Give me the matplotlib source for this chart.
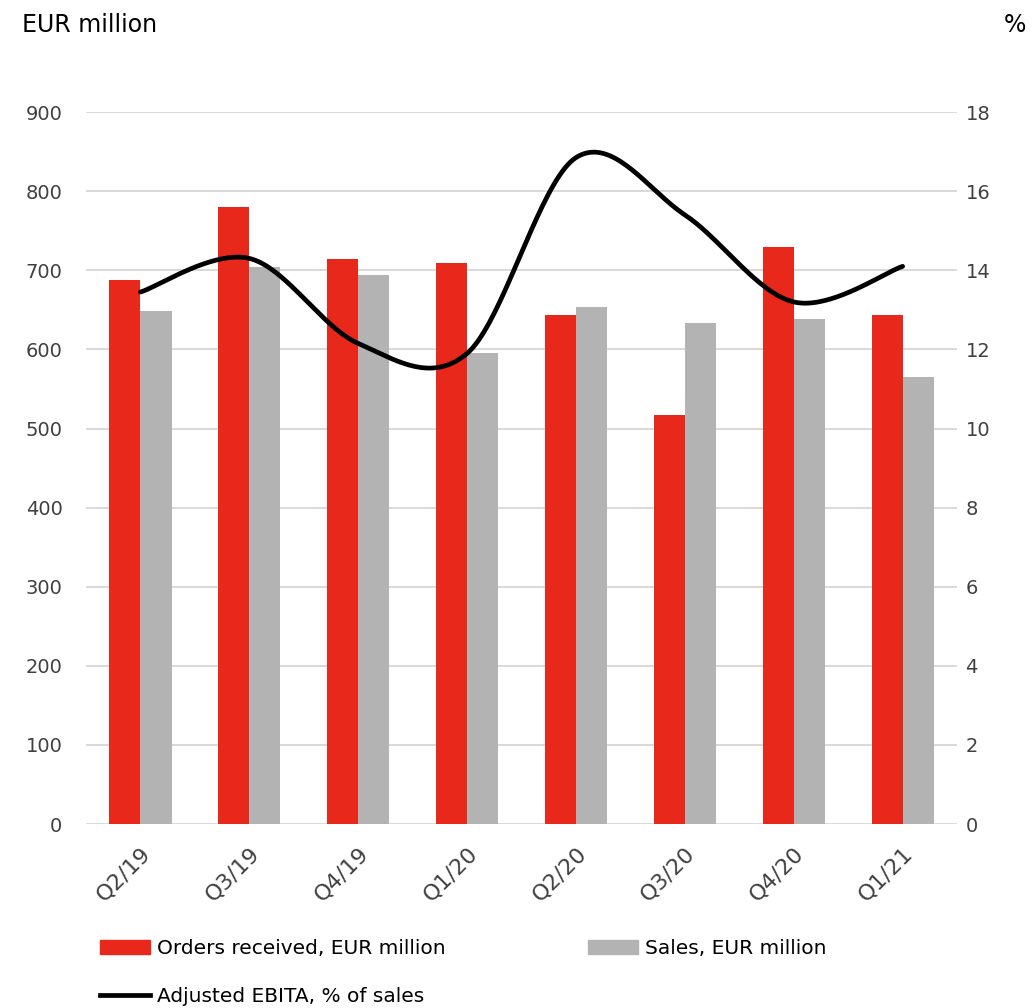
import numpy as np
import matplotlib
matplotlib.use("Agg")
import matplotlib.pyplot as plt
from matplotlib.patches import Patch
from matplotlib.lines import Line2D

quarters = ["Q2/19", "Q3/19", "Q4/19", "Q1/20", "Q2/20", "Q3/20", "Q4/20", "Q1/21"]
orders = [688, 780, 714, 709, 643, 517, 729, 643]
sales = [648, 704, 694, 595, 653, 633, 638, 565]
ebita_pct = [13.45, 14.3, 12.15, 11.9, 16.85, 15.4, 13.2, 14.1]

red = "#E8281A"
grey = "#B3B3B3"
grid_c = "#D9D9D9"
txt_c = "#404040"


def excel_smooth(xs, ys, n=40):
    # cubic bezier through the points, like excel's "smoothed line"
    p = np.column_stack([xs, ys]).astype(float)
    p = np.vstack([p[0], p, p[-1]])
    out = []
    t = np.linspace(0, 1, n)[:, None]
    for i in range(1, len(p) - 2):
        p0, p1, p2, p3 = p[i - 1], p[i], p[i + 1], p[i + 2]
        c1 = p1 + (p2 - p0) / 6
        c2 = p2 - (p3 - p1) / 6
        seg = (1 - t) ** 3 * p1 + 3 * (1 - t) ** 2 * t * c1 + 3 * (1 - t) * t ** 2 * c2 + t ** 3 * p2
        out.append(seg if i == 1 else seg[1:])
    out = np.vstack(out)
    return out[:, 0], out[:, 1]


fig = plt.figure(figsize=(10.33, 10.08), dpi=100)
ax = fig.add_axes([0.0833, 0.1825, 0.8432, 0.7063])
ax2 = ax.twinx()

x = np.arange(len(quarters))
w = 0.285
ax.bar(x - w / 2, orders, w, color=red, zorder=3)
ax.bar(x + w / 2, sales, w, color=grey, zorder=3)

ax.set_xlim(-0.5, len(quarters) - 0.5)
ax.set_ylim(0, 900)
ax.set_yticks(range(0, 901, 100))
ax.yaxis.grid(True, color=grid_c, lw=1.4, zorder=0)
ax.set_axisbelow(True)
ax.set_xticks(x)
ax.set_xticklabels(quarters, rotation=45, ha="right", rotation_mode="anchor", fontsize=16)

sx, sy = excel_smooth(x, ebita_pct)
ax2.plot(sx, sy, color="black", lw=3.4, solid_capstyle="round", zorder=4)
ax2.set_ylim(0, 18)
ax2.set_yticks(range(0, 19, 2))

for a in (ax, ax2):
    for s in a.spines.values():
        s.set_visible(False)
    a.tick_params(axis="y", length=0, labelsize=14, colors=txt_c)
ax.tick_params(axis="x", length=0, colors=txt_c, pad=14)
ax.tick_params(axis="y", pad=17)
ax2.tick_params(axis="y", pad=6)

fig.text(0.021, 0.975, "EUR million", fontsize=17, color="black", va="center")
fig.text(0.993, 0.975, "%", fontsize=17, color="black", va="center", ha="right")

handles = [
    Patch(color=red, label="Orders received, EUR million"),
    Line2D([], [], color="black", lw=3.4, label="Adjusted EBITA, % of sales"),
    Patch(color=grey, label="Sales, EUR million"),
]
fig.legend(handles=handles, loc="upper left", bbox_to_anchor=(0.0968, 0.0685),
           bbox_transform=fig.transFigure, ncol=2, frameon=False, fontsize=14.5,
           handlelength=2.5, handleheight=0.65, handletextpad=0.35,
           columnspacing=7.05, labelspacing=1.42, borderaxespad=0, borderpad=0)

fig.savefig("out.png", dpi=100, facecolor="white")
